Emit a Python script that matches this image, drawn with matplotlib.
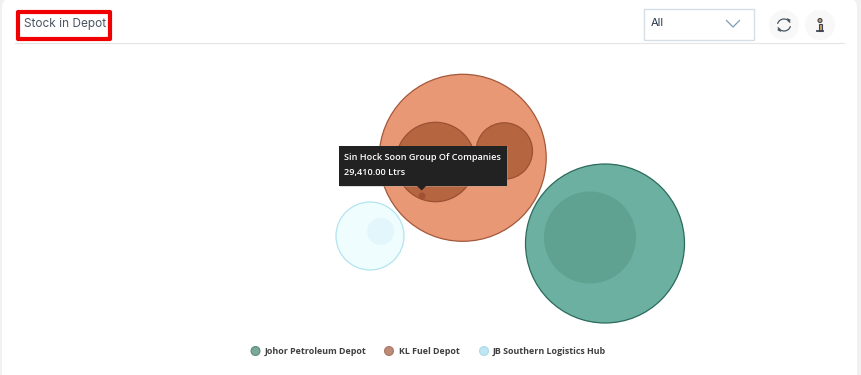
import matplotlib
matplotlib.use("Agg")
import matplotlib.pyplot as plt
from matplotlib.patches import Circle, Rectangle, FancyBboxPatch, Polygon, Arc

# Bubble values, read in picture pixels: centre x, centre y, radius
depots = ["Johor Petroleum Depot", "KL Fuel Depot", "JB Southern Logistics Hub"]
johor_x = [605, 590]
johor_y = [243.5, 237.5]
johor_r = [79.5, 46]
kl_x = [462.7, 435.5, 504.3, 422]
kl_y = [157.8, 162, 151, 196]
kl_r = [83.5, 39.7, 28.2, 3.5]
jb_x = [370, 380.7]
jb_y = [236, 231.3]
jb_r = [34, 13.5]
title = "Stock in Depot"
dropdown_label = "All"
tooltip_lines = ["Sin Hock Soon Group Of Companies", "29,410.00 Ltrs"]

fig = plt.figure(figsize=(8.61, 3.75), dpi=100, facecolor="#f1f1f1")
ax = fig.add_axes([0, 0, 1, 1])
ax.set_xlim(0, 861)
ax.set_ylim(375, 0)
ax.axis("off")

# card
ax.add_patch(FancyBboxPatch((2, -2), 855, 420, boxstyle="round,pad=0,rounding_size=10",
                            fc="white", ec="none", zorder=0))
ax.plot([15, 844], [42.5, 42.5], color="#e4e4e4", lw=0.8, zorder=1)

# title
ax.add_patch(Rectangle((17.5, 11.5), 92.3, 27, fc="none", ec="#f00000", lw=3, zorder=3, joinstyle="round"))
ax.text(24.5, 23.5, title, fontsize=8.5, family="Inter", color="#4a5563", va="center", ha="left", zorder=4)

# dropdown
ax.add_patch(Rectangle((643.5, 8.5), 110.5, 31, fc="white", ec="#d3dee6", lw=1, zorder=2))
ax.text(651, 23.5, dropdown_label, fontsize=8, family="Inter", color="#26364a", va="center", ha="left", zorder=3)
ax.plot([726.5, 733, 739.5], [20.5, 27, 20.5], color="#7f9db3", lw=0.9, zorder=3)

# icon buttons
ax.add_patch(Circle((784, 25), 15, fc="#f8f8f8", ec="none", zorder=2))
ax.add_patch(Circle((820, 25), 15, fc="#f8f8f8", ec="none", zorder=2))
ax.add_patch(Arc((784, 25), 13, 12, theta1=190, theta2=340, color="#4a5563", lw=0.9, zorder=3))
ax.add_patch(Arc((784, 25), 13, 12, theta1=10, theta2=160, color="#4a5563", lw=0.9, zorder=3))
ax.add_patch(Polygon([(787, 18), (791, 20), (788, 22)], fc="#4a5563", ec="none", zorder=3))
ax.add_patch(Polygon([(781, 32), (777, 30), (780, 28)], fc="#4a5563", ec="none", zorder=3))
ax.add_patch(Circle((820, 20.5), 2, fc="#c9a06a", ec="#3c4654", lw=0.8, zorder=3))
ax.add_patch(Rectangle((818.5, 24), 3, 6.5, fc="#c9a06a", ec="#3c4654", lw=0.8, zorder=3))
ax.plot([816.8, 823.2], [31.3, 31.3], color="#3c4654", lw=1.3, zorder=3)

# bubbles
def bubbles(xs, ys, rs, styles, z):
    for x, y, r, (fc, ec) in zip(xs, ys, rs, styles):
        ax.add_patch(Circle((x, y), r, fc=fc, ec=ec, lw=0.9, zorder=z))
        z += 0.1

bubbles(jb_x, jb_y, jb_r, [("#f0fdff", "#b2e4ef"), ("#e2f6fb", "none")], 5)
bubbles(kl_x, kl_y, kl_r, [("#e99875", "#a4583a"), ("#b5653f", "#9a5233"),
                           ("#b5653f", "#9a5233"), ("#9f5132", "none")], 6)
bubbles(johor_x, johor_y, johor_r, [("#6bb0a0", "#2b6b5c"), ("#5fa292", "none")], 7)

# tooltip
ax.add_patch(Rectangle((339.5, 147), 168.5, 39.5, fc="#aaaaaa", ec="none", alpha=0.4, zorder=8))
ax.add_patch(Rectangle((338.5, 145.5), 168.5, 40, fc="#222222", ec="none", zorder=9))
ax.add_patch(Polygon([(416, 185), (427, 185), (421.7, 190.5)], fc="#222222", ec="none", zorder=9))
ax.text(344.5, 158, tooltip_lines[0], fontsize=6.6, family="Open Sans", fontweight="semibold", color="white",
        va="center", ha="left", zorder=10)
ax.text(344.5, 172, tooltip_lines[1], fontsize=6.6, family="Open Sans", fontweight="semibold", color="white",
        va="center", ha="left", zorder=10)

# legend
legend_dots = [255.5, 389, 484]
legend_text = [265, 399, 492.5]
legend_face = ["#7aa99c", "#bd8c78", "#bfe6f2"]
legend_edge = ["#5f8f82", "#ad7a66", "#b0dcea"]
for d, tx, name, fc, ec in zip(legend_dots, legend_text, depots, legend_face, legend_edge):
    ax.add_patch(Circle((d, 351), 4.4, fc=fc, ec=ec, lw=0.9, zorder=3))
    ax.text(tx, 351, name, fontsize=6.4, family="Open Sans", fontweight="bold", color="#3f3f3f",
            va="center", ha="left", zorder=3)

fig.savefig("out.png", dpi=100, facecolor=fig.get_facecolor())
